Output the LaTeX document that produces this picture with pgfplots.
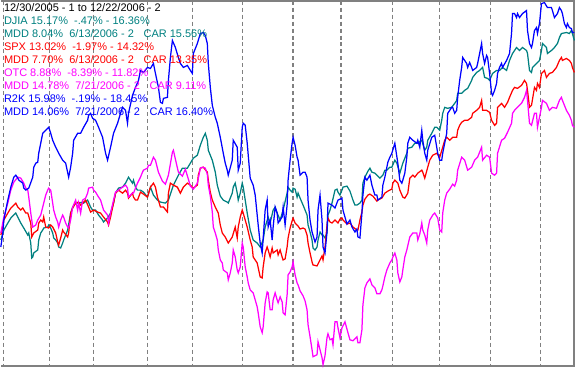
\documentclass[border=0pt]{standalone}
\usepackage{pgfplots}
\pgfplotsset{compat=1.18}
\usepackage{fontspec}
\setmainfont{Liberation Sans}
\definecolor{cteal}{RGB}{0,128,128}
\definecolor{cred}{RGB}{255,0,0}
\definecolor{cmag}{RGB}{255,0,255}
\definecolor{cblue}{RGB}{0,0,255}
\definecolor{cgrid}{RGB}{128,128,128}
\begin{document}
\begin{tikzpicture}
\begin{axis}[
  at={(0,0)}, anchor=south west,
  scale only axis, width=575pt, height=367pt,
  xmin=0, xmax=575, ymin=0, ymax=367, y dir=reverse,
  axis line style={draw=none}, tick style={draw=none},
  xtick={49,93,147,192,242,293,341,393,440,491,541},
  xticklabels={}, ytick=\empty,
  xmajorgrids, major grid style={cgrid, line width=1.2pt, dash pattern=on 4pt off 3pt},
  extra x ticks={2.5}, extra x tick labels={},
  extra x tick style={grid style={cred, line width=1.2pt, dash pattern=on 3pt off 2pt}},
  clip=false,
  every axis plot/.append style={line width=1.25pt, mark=none},
]
\draw[cgrid, line width=1.6pt] (axis cs:0,0.6) -- (axis cs:574.4,0.6) -- (axis cs:574.4,366.4) -- (axis cs:0,366.4);
% DJIA
\addplot[cteal] coordinates {(0,240)(3,230)(7,223)(10,218)(13,215)(15,213)(17,217)(20,223)(23,228)(27,235)(28,233)(30,243)(31,258)(32,257)(33,253)(37,250)(38,240)(40,233)(42,230)(43,228)(47,227)(48,225)(50,228)(52,233)(53,238)(55,240)(57,243)(58,247)(60,248)(62,243)(63,240)(67,230)(70,213)(72,207)(75,203)(78,203)(82,202)(83,203)(87,200)(90,207)(92,210)(95,210)(98,215)(102,220)(103,222)(107,218)(110,213)(113,203)(115,193)(118,188)(122,187)(125,183)(128,177)(132,183)(133,180)(135,187)(137,190)(140,190)(143,192)(147,197)(150,187)(153,195)(157,200)(160,202)(165,203)(168,200)(173,185)(178,175)(182,168)(187,168)(190,163)(193,158)(197,155)(200,145)(203,137)(205,133)(207,140)(208,150)(212,160)(215,172)(217,185)(220,196)(223,200)(227,202)(228,203)(232,193)(233,187)(235,183)(237,193)(238,200)(240,193)(242,183)(243,187)(245,200)(247,213)(250,230)(253,240)(257,243)(260,247)(263,240)(265,227)(268,217)(270,223)(273,210)(275,207)(277,213)(280,220)(283,210)(287,193)(288,187)(290,190)(292,192)(293,188)(295,189)(297,197)(298,193)(300,198)(303,205)(305,210)(307,215)(308,225)(310,232)(312,240)(313,248)(315,250)(317,247)(318,240)(320,232)(322,235)(323,235)(325,238)(327,233)(328,215)(330,210)(332,203)(335,190)(337,189)(338,192)(340,195)(342,190)(343,187)(347,186)(350,191)(353,200)(355,205)(357,205)(360,203)(362,200)(363,183)(365,177)(368,171)(370,168)(372,172)(375,173)(377,175)(380,178)(383,175)(385,170)(387,170)(390,167)(392,167)(395,160)(397,163)(400,173)(403,163)(407,153)(408,148)(412,147)(415,143)(418,143)(422,140)(425,150)(427,147)(428,140)(432,133)(435,127)(437,127)(440,130)(442,120)(443,113)(445,107)(448,108)(452,107)(455,103)(457,100)(458,93)(462,93)(465,90)(468,88)(472,80)(473,77)(477,72)(480,70)(483,67)(485,77)(488,78)(490,80)(493,73)(497,70)(500,70)(503,67)(507,70)(510,60)(513,53)(517,47)(520,50)(523,47)(527,50)(528,53)(530,70)(532,72)(533,67)(537,63)(540,60)(542,50)(543,43)(547,47)(548,53)(552,50)(555,47)(558,43)(560,37)(562,33)(567,32)(570,33)(572,30)(573,33)(575,40)};
% SPX
\addplot[cred] coordinates {(0,235)(2,227)(3,220)(7,213)(10,208)(13,205)(15,203)(17,207)(20,210)(22,208)(25,213)(27,213)(30,223)(31,237)(33,233)(37,230)(38,223)(40,220)(42,222)(43,217)(45,227)(48,228)(50,225)(52,227)(55,233)(57,242)(58,245)(60,238)(62,230)(63,232)(67,237)(68,233)(70,213)(72,208)(75,203)(78,202)(80,205)(83,202)(85,200)(88,207)(90,212)(93,210)(97,212)(100,213)(103,217)(107,222)(108,225)(110,217)(113,203)(115,193)(118,190)(122,193)(125,190)(127,193)(128,198)(132,193)(133,197)(135,200)(137,200)(140,192)(143,194)(147,197)(150,187)(153,183)(155,187)(157,197)(160,207)(163,207)(167,212)(168,193)(170,183)(173,185)(177,187)(180,193)(183,187)(187,183)(190,185)(193,188)(197,185)(198,175)(200,168)(203,167)(207,172)(208,180)(210,192)(212,200)(215,207)(218,213)(220,225)(222,233)(225,237)(228,243)(232,237)(235,227)(237,238)(238,227)(240,217)(242,210)(243,213)(247,227)(250,240)(252,247)(253,257)(257,263)(260,277)(262,278)(263,267)(265,253)(267,247)(268,250)(270,257)(272,248)(273,253)(277,250)(278,255)(280,250)(282,257)(283,260)(285,259)(287,247)(288,238)(290,228)(292,221)(293,218)(295,223)(298,226)(300,229)(303,228)(305,229)(307,235)(308,243)(310,253)(312,262)(313,265)(317,266)(320,260)(322,256)(323,260)(325,247)(327,225)(328,218)(330,222)(332,223)(335,220)(338,223)(340,219)(342,218)(343,220)(347,224)(350,223)(353,227)(357,230)(358,230)(360,220)(362,212)(363,205)(365,199)(368,195)(370,194)(373,196)(377,201)(378,200)(382,198)(385,193)(388,191)(392,189)(393,183)(395,180)(398,183)(400,190)(403,197)(405,198)(408,193)(410,178)(413,175)(415,177)(418,173)(422,170)(423,172)(425,178)(428,167)(430,160)(433,155)(437,153)(440,157)(443,147)(445,140)(447,137)(450,140)(453,137)(457,137)(458,130)(460,125)(462,122)(465,120)(468,120)(472,117)(473,113)(477,110)(480,107)(482,100)(483,110)(487,110)(490,112)(492,120)(495,125)(497,123)(498,107)(502,103)(505,107)(508,102)(510,97)(513,90)(515,87)(518,88)(522,85)(525,80)(527,83)(528,90)(530,107)(532,105)(535,87)(537,90)(538,83)(540,87)(542,73)(545,70)(547,77)(550,73)(553,72)(557,67)(560,60)(562,57)(563,60)(567,58)(570,60)(572,63)(573,67)(575,72)};
% OTC
\addplot[cmag] coordinates {(0,233)(3,217)(7,203)(10,190)(13,182)(17,177)(20,178)(23,183)(25,188)(27,190)(28,197)(30,213)(32,227)(35,225)(37,220)(40,215)(43,203)(45,195)(47,190)(48,188)(50,190)(52,203)(53,210)(55,217)(57,222)(58,227)(60,220)(62,215)(63,217)(65,223)(67,227)(68,228)(70,220)(72,207)(75,200)(77,210)(78,203)(80,213)(82,200)(85,198)(87,193)(88,188)(92,187)(93,190)(95,192)(98,197)(100,200)(103,210)(107,215)(108,223)(110,213)(113,200)(115,192)(118,190)(122,187)(125,185)(127,188)(128,197)(132,193)(133,193)(135,188)(137,183)(140,177)(142,172)(143,170)(147,168)(148,165)(150,165)(153,157)(155,160)(158,172)(162,181)(165,184)(168,175)(172,152)(173,150)(175,159)(178,172)(182,176)(185,169)(188,179)(190,186)(193,189)(197,183)(200,168)(202,167)(205,168)(207,174)(208,185)(210,196)(212,212)(213,227)(215,233)(217,240)(218,250)(220,260)(222,263)(223,270)(227,273)(228,280)(230,273)(232,263)(233,250)(235,257)(237,270)(238,273)(240,267)(242,243)(243,247)(245,267)(247,277)(248,283)(250,290)(253,293)(257,307)(258,313)(260,327)(262,333)(263,327)(265,303)(267,292)(268,293)(270,310)(272,310)(273,300)(275,293)(277,300)(278,303)(280,297)(282,302)(283,313)(285,315)(287,295)(288,275)(290,272)(292,267)(293,262)(295,275)(297,283)(298,285)(300,291)(303,296)(305,301)(307,310)(308,325)(310,337)(312,350)(313,357)(317,355)(318,342)(320,350)(322,358)(323,365)(325,356)(327,338)(328,334)(330,340)(332,339)(333,345)(335,322)(337,322)(338,328)(340,338)(342,328)(345,322)(348,333)(350,340)(353,341)(357,337)(358,343)(360,343)(362,330)(363,305)(365,288)(367,283)(370,279)(372,285)(375,288)(377,294)(380,294)(382,290)(383,286)(385,277)(387,270)(390,263)(392,260)(393,257)(395,253)(397,260)(398,273)(400,282)(402,277)(403,270)(405,257)(407,250)(410,237)(413,233)(417,233)(418,240)(420,234)(422,223)(423,230)(425,235)(427,243)(428,230)(430,220)(433,215)(435,213)(438,218)(440,230)(442,232)(443,213)(445,200)(447,193)(450,189)(453,184)(455,186)(457,180)(458,170)(462,157)(465,160)(468,170)(472,167)(475,160)(478,157)(482,147)(483,160)(487,155)(490,157)(492,173)(495,175)(497,173)(498,153)(502,140)(505,138)(508,132)(512,123)(513,113)(515,110)(518,107)(522,103)(525,97)(527,90)(528,100)(530,123)(532,125)(535,113)(537,113)(538,127)(542,107)(543,100)(547,103)(550,110)(553,107)(557,108)(560,100)(562,97)(563,100)(567,110)(570,115)(572,120)(573,125)(575,127)};
% R2K
\addplot[cblue] coordinates {(0,247)(2,233)(3,220)(7,200)(10,187)(13,177)(15,175)(17,178)(18,180)(22,183)(23,188)(25,190)(28,188)(32,177)(33,167)(35,163)(37,162)(38,153)(42,133)(45,130)(48,127)(50,133)(52,140)(55,147)(58,153)(62,160)(65,163)(68,177)(70,167)(72,153)(73,140)(77,133)(80,133)(83,127)(87,120)(88,115)(90,113)(92,118)(95,120)(98,127)(102,137)(105,153)(107,160)(110,147)(113,133)(117,123)(120,113)(122,107)(125,110)(127,123)(128,113)(132,95)(135,87)(138,80)(140,70)(143,72)(147,67)(150,68)(153,63)(155,73)(158,87)(160,102)(162,103)(163,98)(167,97)(168,80)(170,57)(172,40)(175,47)(178,57)(180,63)(183,67)(187,65)(190,70)(192,73)(193,53)(197,43)(200,33)(203,32)(205,35)(207,43)(208,63)(210,87)(212,105)(215,117)(217,123)(220,137)(223,153)(225,163)(227,170)(228,175)(232,160)(233,140)(237,147)(238,170)(240,163)(242,127)(243,123)(245,125)(247,143)(250,178)(253,185)(255,195)(258,225)(260,243)(262,253)(265,210)(267,200)(268,227)(270,220)(272,240)(273,227)(275,207)(277,213)(278,223)(282,217)(283,207)(285,225)(287,205)(288,180)(290,160)(292,143)(293,137)(295,145)(297,157)(298,160)(300,175)(303,172)(305,172)(307,177)(308,200)(310,220)(312,232)(315,242)(317,237)(318,210)(320,195)(322,220)(323,247)(325,253)(327,232)(328,203)(332,205)(335,208)(338,200)(342,198)(343,210)(347,224)(350,220)(352,227)(355,232)(357,229)(358,237)(360,238)(362,213)(363,195)(365,177)(367,180)(370,175)(372,185)(375,195)(377,195)(378,200)(382,197)(383,185)(385,177)(388,162)(390,157)(392,153)(395,143)(398,163)(400,180)(402,183)(403,180)(405,173)(407,157)(408,143)(410,137)(413,140)(417,143)(418,140)(420,147)(422,130)(423,140)(425,153)(427,160)(428,150)(432,137)(435,135)(438,153)(440,160)(442,160)(443,153)(447,133)(448,113)(450,110)(452,107)(453,107)(455,113)(457,110)(458,97)(460,80)(462,67)(463,57)(467,63)(468,67)(470,62)(472,67)(473,70)(477,67)(478,63)(480,53)(482,43)(483,53)(485,63)(487,55)(488,57)(490,73)(492,93)(493,95)(495,90)(497,83)(498,73)(500,67)(502,63)(503,67)(507,60)(510,53)(512,33)(513,13)(515,13)(517,17)(518,13)(520,17)(523,13)(527,10)(528,30)(530,43)(532,47)(533,43)(535,30)(537,27)(538,33)(540,23)(542,3)(545,2)(548,7)(552,7)(553,10)(555,17)(558,13)(560,7)(562,10)(563,13)(565,23)(567,27)(568,23)(570,27)(572,28)(573,32)(575,32)};
% legend text
\begin{scope}[every node/.style={anchor=base west, inner sep=0pt, font=\fontsize{11}{13}\selectfont}]
\node[text=black] at (axis cs:3,11) {12/30/2005 - 1 to 12/22/2006 - 2};
\node[text=cteal] at (axis cs:3,24) {DJIA 15.17\%\ \ -.47\% - 16.36\%};
\node[text=cteal] at (axis cs:3,37) {MDD 8.04\%\ \ 6/13/2006 - 2};
\node[text=cteal] at (axis cs:143,37) {CAR 15.56\%};
\node[text=cred] at (axis cs:3,50) {SPX 13.02\%\ \ -1.97\% - 14.32\%};
\node[text=cred] at (axis cs:3,63) {MDD 7.70\%\ \ 6/13/2006 - 2};
\node[text=cred] at (axis cs:143,63) {CAR 13.35\%};
\node[text=cmag] at (axis cs:3,76) {OTC 8.88\%\ \ -8.39\% - 11.82\%};
\node[text=cmag] at (axis cs:3,89) {MDD 14.78\%\ \ 7/21/2006 - 2};
\node[text=cmag] at (axis cs:149,89) {CAR 9.11\%};
\node[text=cblue] at (axis cs:3,102) {R2K 15.98\%\ \ -.19\% - 18.45\%};
\node[text=cblue] at (axis cs:3,115) {MDD 14.06\%\ \ 7/21/2006 - 2};
\node[text=cblue] at (axis cs:149,115) {CAR 16.40\%};
\end{scope}
\end{axis}
\end{tikzpicture}
\end{document}
